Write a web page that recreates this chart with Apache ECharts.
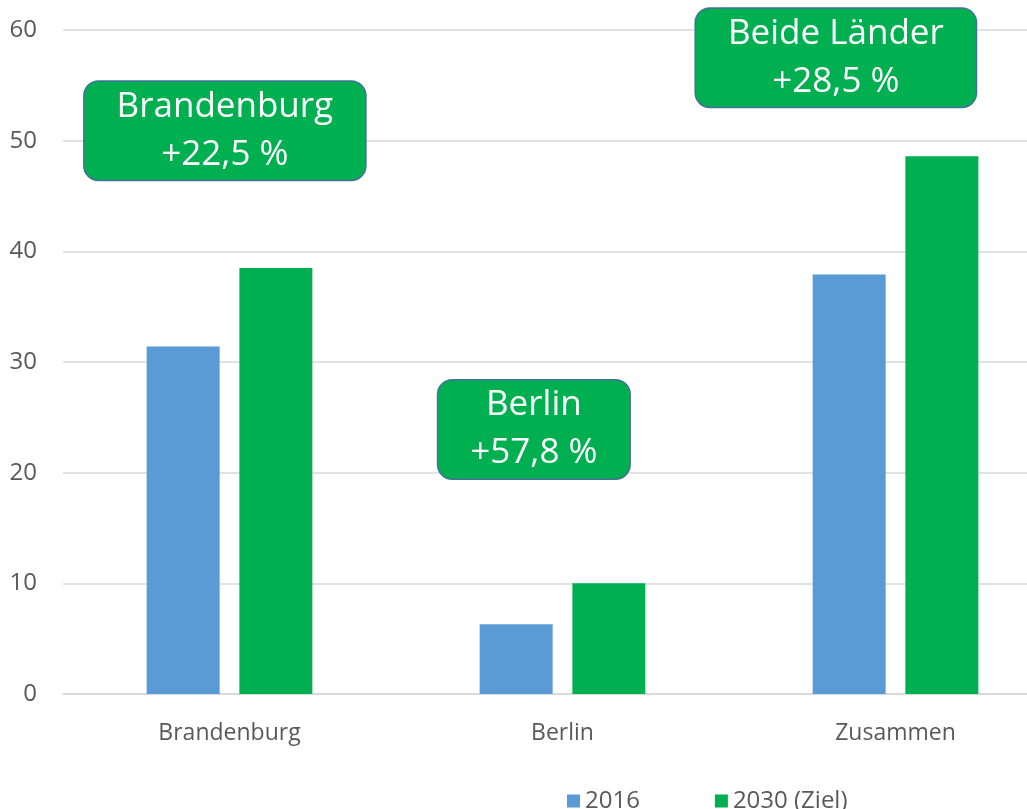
<!DOCTYPE html>
<html>
<head>
<meta charset="utf-8">
<script src="https://cdn.jsdelivr.net/npm/echarts@6/dist/echarts.min.js"></script>
<style>
  html, body { margin: 0; padding: 0; background: #fff; }
  #chart { width: 1027px; height: 809px; }
</style>
</head>
<body>
<div id="chart"></div>
<script>
const categories = ["Brandenburg", "Berlin", "Zusammen"];
const values2016 = [31.4, 6.3, 37.9];
const values2030 = [38.5, 10.0, 48.6];
const seriesNames = ["2016", "2030 (Ziel)"];

// annotation boxes: anchor category, y value, heading and change
const noteCats = ["Brandenburg", "Berlin", "Zusammen"];
const noteY = [50.9, 23.9, 57.5];
const noteTitles = ["Brandenburg", "Berlin", "Beide Länder"];
const noteChanges = ["+22,5 %", "+57,8 %", "+28,5 %"];
// horizontal shift of each box, from the green bar it is attached to
const noteShift = [-51, -75, -106];

const textColor = "#595959";
const font = "'Open Sans', sans-serif";

const chart = echarts.init(document.getElementById("chart"));

chart.setOption({
  animation: false,
  textStyle: { fontFamily: font },
  grid: { left: 63, top: 30, width: 999, bottom: 115, outerBoundsMode: "none" },
  legend: {
    data: seriesNames,
    left: 567,
    top: 789,
    padding: 0,
    icon: "rect",
    itemWidth: 13,
    itemHeight: 13,
    itemGap: 75,
    textStyle: { color: textColor, fontSize: 24, fontFamily: font }
  },
  xAxis: {
    type: "category",
    data: categories,
    axisLine: { lineStyle: { color: "#d9d9d9", width: 1.5 } },
    axisTick: { show: false },
    axisLabel: { color: textColor, fontSize: 23, margin: 28 }
  },
  yAxis: {
    type: "value",
    min: 0,
    max: 60,
    interval: 10,
    axisLine: { show: false },
    axisTick: { show: false },
    splitLine: { lineStyle: { color: "#d9d9d9", width: 1.5 } },
    axisLabel: { color: textColor, fontSize: 24, margin: 26 }
  },
  series: [
    {
      name: seriesNames[0],
      type: "bar",
      data: values2016,
      barWidth: 73,
      barGap: "27%",
      itemStyle: { color: "#5b9bd5" }
    },
    {
      name: seriesNames[1],
      type: "bar",
      data: values2030,
      barWidth: 73,
      itemStyle: { color: "#00b050" },
      markPoint: {
        symbol: "circle",
        symbolSize: 0,
        data: noteCats.map((c, i) => ({
          coord: [c, noteY[i]],
          label: {
            show: true,
            position: "inside",
            offset: [noteShift[i], 0],
            formatter: noteTitles[i] + "\n" + noteChanges[i],
            color: "#fff",
            fontSize: 35,
            fontFamily: font,
            lineHeight: 48,
            align: "center",
            verticalAlign: "middle",
            backgroundColor: "#00b050",
            borderColor: "#41719c",
            borderWidth: 1.5,
            borderRadius: 14,
            padding: [1, 32, 1, 32]
          }
        }))
      }
    }
  ]
});
</script>
</body>
</html>
